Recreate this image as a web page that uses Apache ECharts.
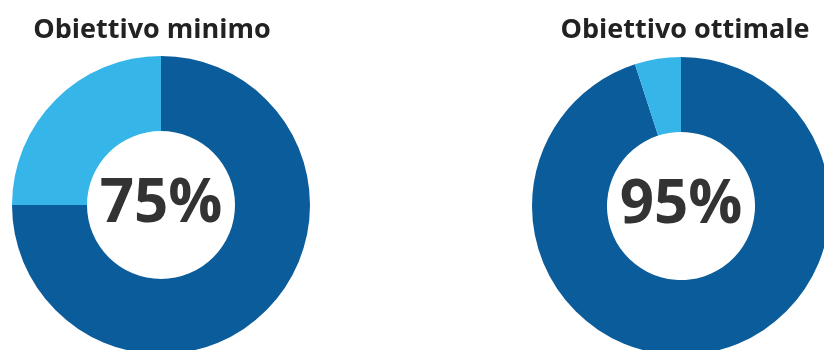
<!DOCTYPE html>
<html>
<head>
<meta charset="utf-8">
<script src="https://cdn.jsdelivr.net/npm/echarts@6/dist/echarts.min.js"></script>
<style>
html,body{margin:0;padding:0;background:#fff;}
#main{width:824px;height:350px;}
</style>
</head>
<body>
<div id="main"></div>
<script>
const chartTitles = ['Obiettivo minimo', 'Obiettivo ottimale'];
const achieved = [75, 95];
const remaining = [25, 5];
const sliceNames = ['Raggiunto', 'Mancante'];

const darkBlue = '#0b5c9a';
const lightBlue = '#36b5e8';
const centers = [[161, 205], [681, 206]];
const titlePos = [147, 680];

const chart = echarts.init(document.getElementById('main'), null, {renderer: 'canvas'});
const series = achieved.map((v, i) => ({
  type: 'pie',
  center: centers[i],
  radius: [74, 149],
  startAngle: 90,
  clockwise: true,
  silent: true,
  label: {
    show: true,
    position: 'center',
    formatter: (p) => p.dataIndex === 0 ? p.value + '%' : '',
    fontFamily: 'Open Sans',
    fontWeight: 'bold',
    fontSize: 60,
    color: '#333333'
  },
  labelLine: {show: false},
  itemStyle: {borderWidth: 0},
  data: [
    {name: sliceNames[0], value: v, itemStyle: {color: darkBlue}},
    {name: sliceNames[1], value: remaining[i], itemStyle: {color: lightBlue}, label: {show: false}}
  ]
}));

chart.setOption({
  animation: false,
  title: chartTitles.map((t, i) => ({
    text: t,
    left: titlePos[i],
    top: 12,
    textAlign: 'center',
    textStyle: {fontFamily: 'Open Sans', fontWeight: 'bold', fontSize: 27, color: '#222222'}
  })),
  series: series
});
</script>
</body>
</html>
